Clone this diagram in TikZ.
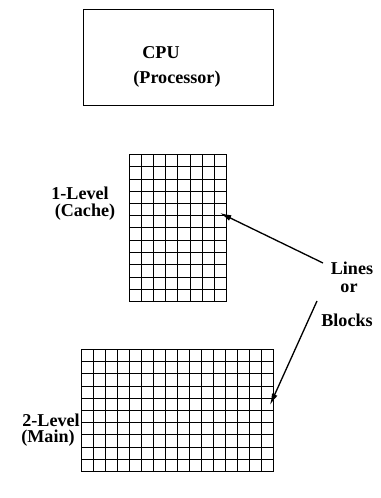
\documentclass[tikz,border=0pt]{standalone}
\usepackage{fontspec}
\setmainfont{Liberation Serif}
\usetikzlibrary{arrows.meta}

\tikzset{
  memgrid/.style={line width=1.1pt, line cap=rect},
  lbl/.style={font=\fontsize{10.3}{11}\selectfont\bfseries, inner sep=0pt},
  pointer/.style={line width=0.75pt, -{Latex[length=6.5pt,width=3.4pt]}}
}

\begin{document}
\begin{tikzpicture}[x=0.02cm,y=0.02cm]
    \useasboundingbox (0,0) rectangle (381,498);

    % processor
    \draw[line width=0.8pt] (83.5,392.5) rectangle (273.5,488.5);
    \node[lbl] (cpu) at (161,445) {CPU};
    \node[lbl] (proc) at (177,419) {(Processor)};

    % first level: 8 x 12
    \foreach \xx in {129.5,141.5,153.5,165.5,177.5,190.5,202.5,214.5,226.5}
      \draw[memgrid] (\xx,196.5) -- (\xx,343.5);
    \foreach \yy in {196.5,208.5,220.5,233.5,245.5,257.5,270.5,282.5,294.5,306.5,318.5,331.5,343.5}
      \draw[memgrid] (129.5,\yy) -- (226.5,\yy);
    \node[lbl] (lvone) at (80,305) {1-Level};
    \node[lbl] (cache) at (85,286) {(Cache)};

    % second level: 16 x 10
    \foreach \i in {0,...,16}
      \draw[memgrid] (81.5+\i*12,26.5) -- (81.5+\i*12,148.5);
    \foreach \yy in {26.5,38.5,50.5,63.5,75.5,87.5,99.5,111.5,124.5,136.5,148.5}
      \draw[memgrid] (81.5,\yy) -- (273.5,\yy);
    \node[lbl] (lvtwo) at (51,78) {2-Level};
    \node[lbl] (mainm) at (48,60) {(Main)};

    \node[lbl] (lines) at (352,230) {Lines};
    \node[lbl] (or) at (349,210) {or};
    \node[lbl] (blocks) at (347,178) {Blocks};

    \coordinate (tailone) at (323,235);
    \coordinate (tipone) at (220,285);
    \coordinate (tailtwo) at (317,197);
    \coordinate (tiptwo) at (270,93);
    \draw[pointer] (tailone) -- (tipone);
    \draw[pointer] (tailtwo) -- (tiptwo);
  \end{tikzpicture}
\end{document}
